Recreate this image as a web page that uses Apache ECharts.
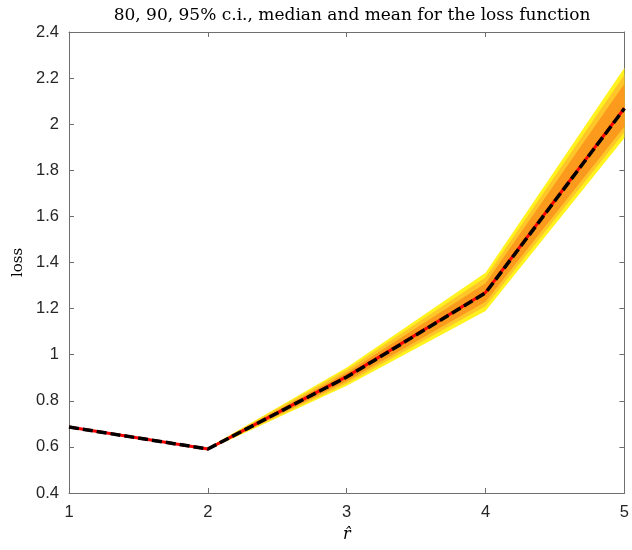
<!DOCTYPE html>
<html><head><meta charset="utf-8">
<script src="https://cdn.jsdelivr.net/npm/echarts@6/dist/echarts.min.js"></script>
<style>html,body{margin:0;padding:0;background:#fff}#c{width:632px;height:550px}</style>
</head><body><div id="c"></div>
<script>
var categories = ['1','2','3','4','5'];
var lower95 = [0.685, 0.587, 0.865, 1.19, 1.94];
var upper95 = [0.685, 0.596, 0.945, 1.355, 2.245];
var lower90 = [0.685, 0.588, 0.875, 1.21, 1.965];
var upper90 = [0.685, 0.595, 0.935, 1.335, 2.215];
var lower80 = [0.685, 0.589, 0.885, 1.23, 1.99];
var upper80 = [0.685, 0.594, 0.922, 1.31, 2.175];
var median = [0.686, 0.591, 0.905, 1.27, 2.07];
var mean = [0.686, 0.591, 0.903, 1.268, 2.068];

function diff(a,b){return a.map(function(v,i){return +(v-b[i]).toFixed(4);});}
function band(name, lo, hi, color){
  return [
    {name:name+'lo', type:'line', stack:name, data:lo, symbol:'none', lineStyle:{width:0,opacity:0}, silent:true},
    {name:name, type:'line', stack:name, data:diff(hi,lo), symbol:'none', lineStyle:{width:0,opacity:0}, areaStyle:{color:color,opacity:1}, silent:true}
  ];
}
var lineColor = '#6e6e6e';
var labColor = '#262626';
var chart = echarts.init(document.getElementById('c'));
chart.setOption({
  animation:false,
  title:{text:'80, 90, 95% c.i., median and mean for the loss function', left:347, textAlign:'center', top:2,
    textStyle:{fontFamily:'DejaVu Serif', fontWeight:'normal', fontSize:17, color:'#000'}},
  grid:{left:69, right:7, top:32, bottom:57},
  xAxis:[{type:'category', data:categories, boundaryGap:false, position:'bottom',
    name:'r\u0302', nameLocation:'middle', nameGap:34,
    nameTextStyle:{fontFamily:'DejaVu Serif', fontStyle:'italic', fontSize:16, color:'#000'},
    axisLine:{lineStyle:{color:lineColor,width:1}}, axisTick:{inside:true,length:5,lineStyle:{color:lineColor}},
    axisLabel:{fontFamily:'Liberation Sans', fontSize:16.5, color:labColor, margin:11}, splitLine:{show:false}},
   {type:'category', data:categories, boundaryGap:false, position:'top',
    axisLine:{lineStyle:{color:lineColor,width:1}}, axisTick:{inside:true,length:5,lineStyle:{color:lineColor}},
    axisLabel:{show:false}, splitLine:{show:false}}],
  yAxis:[{type:'value', min:0.4, max:2.4, interval:0.2, position:'left',
    name:'loss', nameLocation:'middle', nameGap:42, nameRotate:90,
    nameTextStyle:{fontFamily:'DejaVu Serif', fontSize:15, color:'#000'},
    axisLine:{show:true,lineStyle:{color:lineColor,width:1}}, axisTick:{show:true,inside:true,length:5,lineStyle:{color:lineColor}},
    axisLabel:{fontFamily:'Liberation Sans', fontSize:16.5, color:labColor, margin:10,
      formatter:function(v){return String(+v.toFixed(1));}}, splitLine:{show:false}},
   {type:'value', min:0.4, max:2.4, interval:0.2, position:'right',
    axisLine:{show:true,lineStyle:{color:lineColor,width:1}}, axisTick:{show:true,inside:true,length:5,lineStyle:{color:lineColor}},
    axisLabel:{show:false}, splitLine:{show:false}}],
  series: [].concat(
    band('b95', lower95, upper95, '#FFF21F'),
    band('b90', lower90, upper90, '#FFC62A'),
    band('b80', lower80, upper80, '#FB9A1C'),
    [{name:'median', type:'line', data:median, symbol:'none', lineStyle:{color:'#FF0000', width:3}, z:5},
     {name:'mean', type:'line', data:mean, symbol:'none', lineStyle:{color:'#000000', width:3.5, type:[10,4]}, z:6}]
  )
});
</script></body></html>
